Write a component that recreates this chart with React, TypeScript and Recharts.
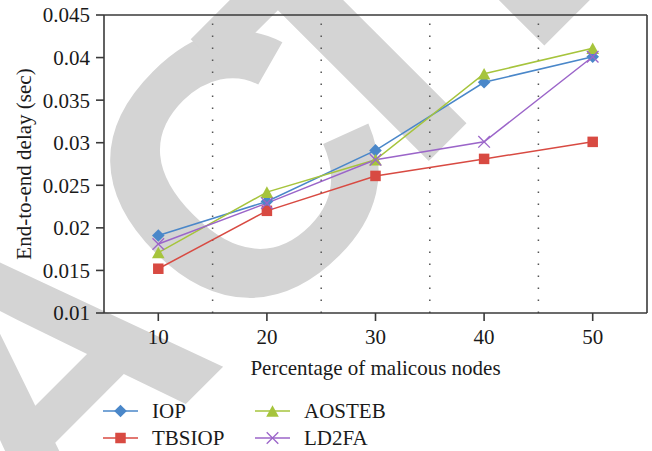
import React from 'react';
import { LineChart, Line, XAxis, YAxis, ReferenceLine, Legend, Label } from 'recharts';

const categories = [10, 20, 30, 40, 50];
const iop = [0.0191, 0.0231, 0.0291, 0.0371, 0.0401];
const tbsiop = [0.0152, 0.022, 0.0261, 0.0281, 0.0301];
const aosteb = [0.0171, 0.0242, 0.028, 0.0381, 0.0411];
const ld2fa = [0.0181, 0.0229, 0.028, 0.0301, 0.0401];
const yTicks = [0.01, 0.015, 0.02, 0.025, 0.03, 0.035, 0.04, 0.045];
const separators = [15, 25, 35, 45];
const seriesNames = ['IOP', 'TBSIOP', 'AOSTEB', 'LD2FA'];
const watermarkText = 'RETRACTED';

const COLORS: Record<string, string> = {
  IOP: '#4a87c9',
  TBSIOP: '#d84a42',
  AOSTEB: '#a6c43c',
  LD2FA: '#9b65c9',
};
const SHAPES: Record<string, string> = {
  IOP: 'diamond',
  TBSIOP: 'square',
  AOSTEB: 'triangle',
  LD2FA: 'cross',
};

const data = categories.map((c, i) => ({
  x: c,
  IOP: iop[i],
  TBSIOP: tbsiop[i],
  AOSTEB: aosteb[i],
  LD2FA: ld2fa[i],
}));

const FONT = '"Liberation Serif", "Times New Roman", serif';
const AXIS = '#3a3a3a';

function Marker({ shape, color, cx, cy }: { shape: string; color: string; cx: number; cy: number }) {
  if (cx == null || cy == null) return null;
  if (shape === 'diamond') {
    const r = 6.3;
    return <path d={`M${cx},${cy - r}L${cx + r},${cy}L${cx},${cy + r}L${cx - r},${cy}Z`} fill={color} />;
  }
  if (shape === 'square') {
    const s = 10.5;
    return <rect x={cx - s / 2} y={cy - s / 2} width={s} height={s} fill={color} />;
  }
  if (shape === 'triangle') {
    const w = 6.3;
    const h = 5.8;
    return <path d={`M${cx},${cy - h}L${cx + w},${cy + h}L${cx - w},${cy + h}Z`} fill={color} />;
  }
  const r = 5.8;
  return (
    <g stroke={color} strokeWidth={1.3}>
      <line x1={cx - r} y1={cy - r} x2={cx + r} y2={cy + r} />
      <line x1={cx - r} y1={cy + r} x2={cx + r} y2={cy - r} />
    </g>
  );
}

const makeDot = (name: string) => (p: any) => (
  <Marker key={`${name}-${p.index}`} shape={SHAPES[name]} color={COLORS[name]} cx={p.cx} cy={p.cy} />
);

function LegendContent() {
  const items = [
    { name: 'IOP', x: 8, y: 16 },
    { name: 'TBSIOP', x: 8, y: 43 },
    { name: 'AOSTEB', x: 160, y: 16 },
    { name: 'LD2FA', x: 160, y: 43 },
  ];
  return (
    <svg width={340} height={56} style={{ display: 'block', overflow: 'visible' }}>
      {items.map((it) => (
        <g key={it.name}>
          <line x1={it.x} y1={it.y} x2={it.x + 35} y2={it.y} stroke={COLORS[it.name]} strokeWidth={1.5} />
          <Marker shape={SHAPES[it.name]} color={COLORS[it.name]} cx={it.x + 17.5} cy={it.y} />
          <text x={it.x + 49} y={it.y + 7} fontFamily={FONT} fontSize={21} fill="#1a1a1a">
            {it.name}
          </text>
        </g>
      ))}
    </svg>
  );
}

function Watermark() {
  const adv = [0.722, 0.667, 0.611, 0.722, 0.722, 0.722, 0.611, 0.667, 0.722];
  const fs = 370;
  const aStart = -417;
  const xs: number[] = [];
  let pos = aStart;
  for (let i = 3; i >= 0; i--) {
    pos -= adv[i] * fs;
    xs[i] = pos;
  }
  xs[4] = aStart;
  xs[5] = -142;
  xs[6] = 45;
  xs[7] = 270;
  xs[8] = 270 + adv[7] * fs;
  return (
    <svg width={652} height={451} style={{ position: 'absolute', left: 0, top: 0 }}>
      <g transform="translate(244,162) rotate(-45)">
        <text
          x={xs.join(' ')}
          y={130}
          fontFamily='"Liberation Sans", Arial, sans-serif'
          fontWeight="bold"
          fontSize={fs}
          fill="#d4d4d4"
        >
          {watermarkText}
        </text>
      </g>
    </svg>
  );
}

export default function App() {
  return (
    <div style={{ position: 'absolute', left: 0, top: 0, width: 652, height: 451, background: '#fff', overflow: 'hidden' }}>
      <Watermark />
      <div style={{ position: 'absolute', left: 0, top: 0 }}>
        <LineChart width={652} height={451} data={data} margin={{ top: 15, right: 5, bottom: 0, left: 0 }}>
          <XAxis
            dataKey="x"
            type="number"
            domain={[5, 55]}
            ticks={categories}
            allowDataOverflow
            height={138}
            tickSize={8}
            tickMargin={8}
            axisLine={{ stroke: AXIS, strokeWidth: 1.6 }}
            tickLine={{ stroke: AXIS, strokeWidth: 1.6 }}
            tick={{ fill: '#1a1a1a', fontSize: 21, fontFamily: FONT }}
          >
            <Label
              value="Percentage of malicous nodes"
              position="insideTop"
              offset={47}
              style={{ fill: '#1a1a1a', fontSize: 21, fontFamily: FONT }}
            />
          </XAxis>
          <YAxis
            type="number"
            domain={[0.01, 0.045]}
            ticks={yTicks}
            allowDataOverflow
            width={104}
            tickSize={8}
            tickMargin={6}
            axisLine={{ stroke: AXIS, strokeWidth: 1.6 }}
            tickLine={{ stroke: AXIS, strokeWidth: 1.6 }}
            tick={{ fill: '#1a1a1a', fontSize: 21, fontFamily: FONT }}
          >
            <Label
              value="End-to-end delay (sec)"
              angle={-90}
              position="insideLeft"
              offset={24}
              style={{ textAnchor: 'middle', fill: '#1a1a1a', fontSize: 21, fontFamily: FONT }}
            />
          </YAxis>
          {separators.map((s) => (
            <ReferenceLine key={s} x={s} stroke="#555" strokeWidth={1.5} strokeDasharray="1.5 10.5" />
          ))}
          <ReferenceLine y={0.045} stroke={AXIS} strokeWidth={1.6} />
          <ReferenceLine x={55} stroke={AXIS} strokeWidth={1.6} />
          {seriesNames.map((n) => (
            <Line
              key={n}
              dataKey={n}
              name={n}
              stroke={COLORS[n]}
              strokeWidth={1.5}
              dot={makeDot(n)}
              activeDot={false}
              isAnimationActive={false}
            />
          ))}
          <Legend
            layout="horizontal"
            verticalAlign="middle"
            align="center"
            content={() => <LegendContent />}
            wrapperStyle={{ position: 'absolute', left: 95, top: 395, width: 340, height: 56 }}
          />
        </LineChart>
      </div>
    </div>
  );
}
